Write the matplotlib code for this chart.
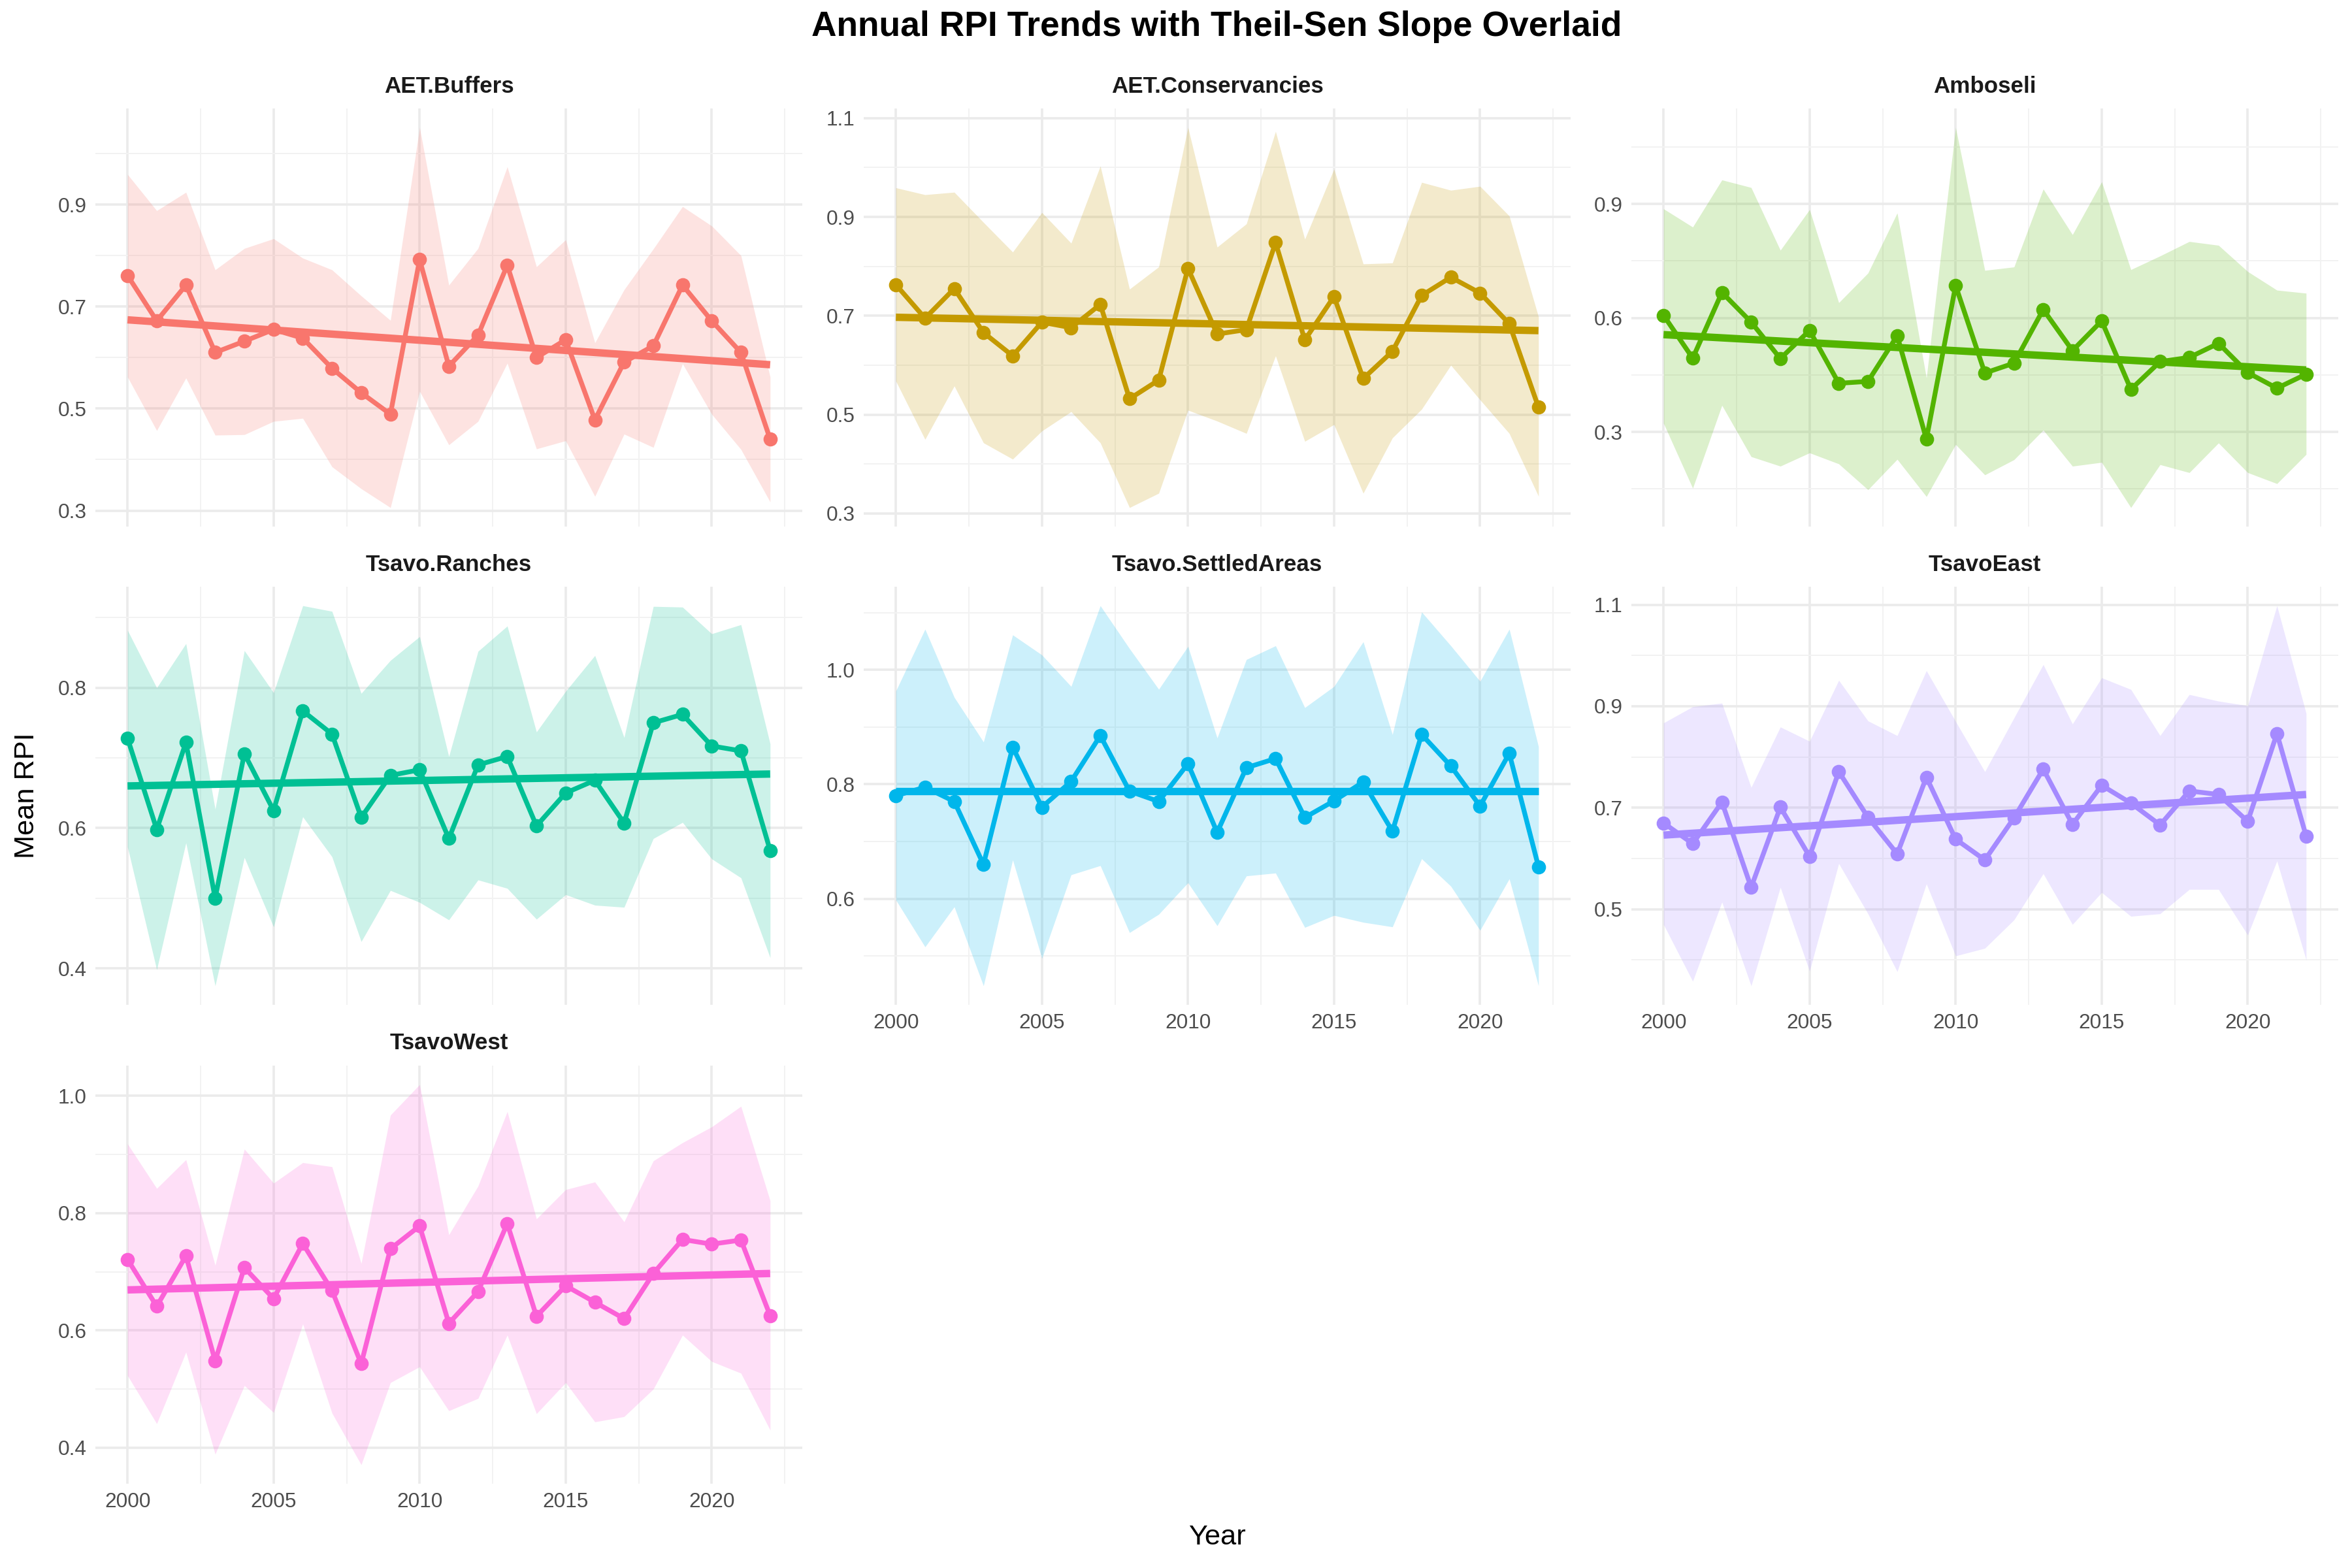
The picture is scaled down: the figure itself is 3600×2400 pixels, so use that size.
import matplotlib
matplotlib.use("Agg")
import matplotlib.pyplot as plt
import numpy as np
from matplotlib.ticker import MultipleLocator, FixedLocator, FormatStrFormatter

plt.rcParams['font.family'] = ['Liberation Sans', 'DejaVu Sans']

years = list(range(2000, 2023))
regions = ["AET.Buffers", "AET.Conservancies", "Amboseli",
           "Tsavo.Ranches", "Tsavo.SettledAreas", "TsavoEast", "TsavoWest"]
colors = ["#F8766D", "#C49A00", "#53B400", "#00C094", "#00B6EB", "#A58AFF", "#FB61D7"]

mean_buffers = [0.761, 0.672, 0.742, 0.610, 0.632, 0.655, 0.638, 0.579, 0.531, 0.489, 0.792, 0.583,
                0.644, 0.781, 0.600, 0.635, 0.478, 0.591, 0.623, 0.742, 0.672, 0.610, 0.440]
upper_buffers = [0.959, 0.888, 0.924, 0.772, 0.814, 0.833, 0.795, 0.772, 0.721, 0.673, 1.051, 0.742,
                 0.814, 0.974, 0.778, 0.831, 0.629, 0.733, 0.813, 0.896, 0.858, 0.800, 0.562]
lower_buffers = [0.562, 0.457, 0.560, 0.448, 0.449, 0.475, 0.481, 0.386, 0.343, 0.306, 0.534, 0.429,
                 0.475, 0.589, 0.421, 0.437, 0.328, 0.450, 0.424, 0.588, 0.489, 0.420, 0.317]
trend_buffers = [0.674, 0.586]

mean_conserv = [0.763, 0.695, 0.755, 0.666, 0.619, 0.687, 0.676, 0.723, 0.532, 0.570, 0.796, 0.663,
                0.672, 0.848, 0.651, 0.739, 0.573, 0.628, 0.741, 0.778, 0.746, 0.684, 0.515]
upper_conserv = [0.959, 0.945, 0.950, 0.889, 0.829, 0.909, 0.847, 1.003, 0.754, 0.799, 1.081, 0.839,
                 0.886, 1.073, 0.855, 0.997, 0.805, 0.807, 0.970, 0.954, 0.962, 0.902, 0.698]
lower_conserv = [0.568, 0.450, 0.558, 0.443, 0.410, 0.467, 0.506, 0.443, 0.312, 0.341, 0.509, 0.487,
                 0.462, 0.619, 0.446, 0.480, 0.341, 0.453, 0.511, 0.600, 0.530, 0.462, 0.335]
trend_conserv = [0.697, 0.670]

mean_amboseli = [0.607, 0.494, 0.667, 0.589, 0.493, 0.567, 0.428, 0.433, 0.553, 0.281, 0.685, 0.455,
                 0.481, 0.622, 0.514, 0.592, 0.412, 0.485, 0.496, 0.533, 0.456, 0.415, 0.452]
upper_amboseli = [0.887, 0.839, 0.963, 0.943, 0.778, 0.885, 0.640, 0.718, 0.876, 0.442, 1.101, 0.725,
                  0.734, 0.939, 0.819, 0.958, 0.727, 0.763, 0.801, 0.791, 0.722, 0.673, 0.665]
lower_amboseli = [0.323, 0.152, 0.370, 0.235, 0.210, 0.245, 0.216, 0.148, 0.228, 0.130, 0.267, 0.187,
                  0.227, 0.305, 0.210, 0.220, 0.101, 0.214, 0.193, 0.271, 0.193, 0.164, 0.241]
trend_amboseli = [0.556, 0.463]

mean_ranches = [0.728, 0.598, 0.722, 0.500, 0.706, 0.625, 0.767, 0.734, 0.615, 0.675, 0.683, 0.585,
                0.690, 0.702, 0.603, 0.650, 0.668, 0.607, 0.750, 0.762, 0.717, 0.710, 0.568]
upper_ranches = [0.882, 0.800, 0.863, 0.627, 0.853, 0.793, 0.917, 0.909, 0.792, 0.839, 0.873, 0.702,
                 0.852, 0.888, 0.737, 0.795, 0.846, 0.729, 0.916, 0.915, 0.877, 0.890, 0.720]
lower_ranches = [0.573, 0.398, 0.579, 0.375, 0.558, 0.459, 0.616, 0.559, 0.438, 0.511, 0.494, 0.469,
                 0.526, 0.514, 0.470, 0.505, 0.490, 0.487, 0.585, 0.608, 0.556, 0.529, 0.415]
trend_ranches = [0.660, 0.677]

mean_settled = [0.780, 0.795, 0.770, 0.660, 0.865, 0.760, 0.805, 0.885, 0.788, 0.770, 0.836, 0.716,
                0.829, 0.845, 0.742, 0.771, 0.804, 0.718, 0.887, 0.832, 0.762, 0.854, 0.656]
upper_settled = [0.963, 1.071, 0.952, 0.874, 1.061, 1.026, 0.971, 1.112, 1.037, 0.966, 1.041, 0.881,
                 1.018, 1.042, 0.934, 0.971, 1.049, 0.887, 1.101, 1.042, 0.980, 1.071, 0.866]
lower_settled = [0.598, 0.516, 0.586, 0.448, 0.668, 0.496, 0.642, 0.658, 0.541, 0.573, 0.628, 0.553,
                 0.640, 0.645, 0.550, 0.571, 0.559, 0.551, 0.670, 0.622, 0.545, 0.635, 0.448]
trend_settled = [0.788, 0.788]

mean_east = [0.670, 0.629, 0.711, 0.543, 0.701, 0.604, 0.771, 0.681, 0.609, 0.760, 0.638, 0.597,
             0.680, 0.776, 0.667, 0.744, 0.709, 0.666, 0.733, 0.726, 0.673, 0.846, 0.644]
upper_east = [0.867, 0.899, 0.906, 0.740, 0.859, 0.831, 0.951, 0.871, 0.842, 0.970, 0.870, 0.771,
              0.877, 0.982, 0.865, 0.956, 0.933, 0.842, 0.923, 0.910, 0.901, 1.098, 0.886]
lower_east = [0.470, 0.358, 0.514, 0.349, 0.543, 0.378, 0.590, 0.491, 0.377, 0.550, 0.408, 0.423,
              0.479, 0.570, 0.470, 0.533, 0.486, 0.491, 0.539, 0.539, 0.449, 0.595, 0.400]
trend_east = [0.646, 0.726]

mean_west = [0.721, 0.641, 0.727, 0.548, 0.707, 0.654, 0.748, 0.668, 0.543, 0.739, 0.778, 0.612,
             0.666, 0.782, 0.624, 0.676, 0.648, 0.620, 0.697, 0.755, 0.747, 0.754, 0.625]
upper_west = [0.918, 0.842, 0.891, 0.711, 0.909, 0.851, 0.886, 0.879, 0.714, 0.967, 1.019, 0.763,
              0.846, 0.973, 0.790, 0.840, 0.853, 0.785, 0.889, 0.920, 0.947, 0.982, 0.821]
lower_west = [0.523, 0.441, 0.563, 0.389, 0.506, 0.460, 0.611, 0.459, 0.371, 0.511, 0.538, 0.463,
              0.484, 0.592, 0.458, 0.511, 0.444, 0.453, 0.500, 0.592, 0.547, 0.527, 0.430]
trend_west = [0.669, 0.697]

yticks_buffers = [0.3, 0.5, 0.7, 0.9]
yticks_conserv = [0.3, 0.5, 0.7, 0.9, 1.1]
yticks_amboseli = [0.3, 0.6, 0.9]
yticks_ranches = [0.4, 0.6, 0.8]
yticks_settled = [0.6, 0.8, 1.0]
yticks_east = [0.5, 0.7, 0.9, 1.1]
yticks_west = [0.4, 0.6, 0.8, 1.0]
xticks = [2000, 2005, 2010, 2015, 2020]

means = [mean_buffers, mean_conserv, mean_amboseli, mean_ranches, mean_settled, mean_east, mean_west]
uppers = [upper_buffers, upper_conserv, upper_amboseli, upper_ranches, upper_settled, upper_east, upper_west]
lowers = [lower_buffers, lower_conserv, lower_amboseli, lower_ranches, lower_settled, lower_east, lower_west]
trends = [trend_buffers, trend_conserv, trend_amboseli, trend_ranches, trend_settled, trend_east, trend_west]
yticks_all = [yticks_buffers, yticks_conserv, yticks_amboseli, yticks_ranches, yticks_settled,
              yticks_east, yticks_west]

W, H = 3600, 2400
fig = plt.figure(figsize=(15, 10), dpi=240)

col_left = [146, 1322, 2497]
panel_w = 1082
row_top = [166, 898, 1631]
panel_h = 640

grid_major = "#EBEBEB"
grid_minor = "#F2F2F2"


def minor_from(major, lo, hi):
    step = major[1] - major[0]
    vals = []
    v = major[0] - step / 2
    while v > lo:
        vals.append(v)
        v -= step
    for a, b in zip(major[:-1], major[1:]):
        vals.append((a + b) / 2)
    v = major[-1] + step / 2
    while v < hi:
        vals.append(v)
        v += step
    return vals


for i, name in enumerate(regions):
    r, c = divmod(i, 3)
    ax = fig.add_axes([col_left[c] / W, 1 - (row_top[r] + panel_h) / H, panel_w / W, panel_h / H])
    col = colors[i]
    x = np.array(years)
    ax.fill_between(x, lowers[i], uppers[i], color=col, alpha=0.2, linewidth=0, zorder=2)
    ax.plot(x, means[i], color=col, linewidth=2.2, zorder=3)
    ax.plot(x, means[i], 'o', color=col, markersize=5.5, zorder=4)
    ax.plot([years[0], years[-1]], trends[i], color=col, linewidth=3.4, zorder=5,
            solid_capstyle='butt')

    ymin = min(lowers[i]); ymax = max(uppers[i])
    rng = ymax - ymin
    lo, hi = ymin - 0.05 * rng, ymax + 0.05 * rng
    ax.set_ylim(lo, hi)
    ax.set_xlim(2000 - 1.1, 2022 + 1.1)

    yt = yticks_all[i]
    ax.yaxis.set_major_locator(FixedLocator(yt))
    ax.yaxis.set_minor_locator(FixedLocator(minor_from(yt, lo, hi)))
    ax.yaxis.set_major_formatter(FormatStrFormatter('%.1f'))
    ax.xaxis.set_major_locator(FixedLocator(xticks))
    ax.xaxis.set_minor_locator(FixedLocator(minor_from(xticks, 1998.9, 2023.1)))
    ax.grid(which='major', color=grid_major, linewidth=1.1, zorder=0)
    ax.grid(which='minor', color=grid_minor, linewidth=0.6, zorder=0)
    ax.set_axisbelow(True)
    for s in ax.spines.values():
        s.set_visible(False)
    ax.tick_params(which='both', length=0, labelsize=9.5, labelcolor='#4D4D4D', pad=4)
    if i not in (4, 5, 6):
        ax.tick_params(axis='x', labelbottom=False)
    ax.text(0.5, 1 + 34 / panel_h, name, transform=ax.transAxes, ha='center', va='center',
            fontsize=10.5, fontweight='bold', color='#1A1A1A')

fig.text((146 + 3579) / 2 / W, 1 - 41 / H, "Annual RPI Trends with Theil-Sen Slope Overlaid",
         ha='center', va='center', fontsize=16, fontweight='bold')
fig.text((146 + 3579) / 2 / W, 1 - 2353 / H, "Year", ha='center', va='center', fontsize=13)
fig.text(41 / W, 1 - (166 + 2270) / 2 / H, "Mean RPI", ha='center', va='center',
         rotation=90, fontsize=13)

fig.savefig("out.png", dpi=240, facecolor='white')
